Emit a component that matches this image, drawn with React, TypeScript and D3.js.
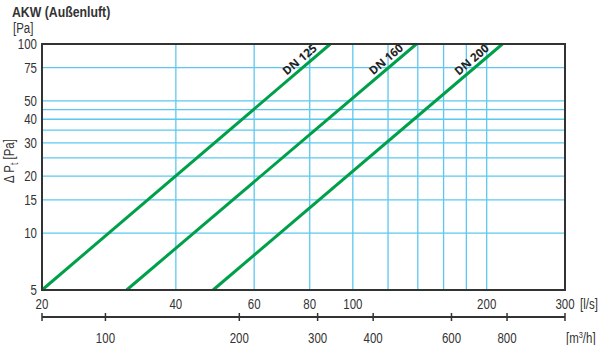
import React from "react";
import * as d3 from "d3";

const title = "AKW (Außenluft)";
const yTicks = [5, 10, 15, 20, 30, 40, 50, 75, 100];
const yGrid = [10, 15, 20, 25, 30, 35, 40, 45, 50, 75];
const xTicks = [20, 40, 60, 80, 100, 200, 300];
const xGrid = [40, 60, 80, 100, 120, 140, 160, 180, 200];
const m3hTicks = [72, 100, 200, 300, 400, 600, 800, 1080];
const m3hLabels = [100, 200, 300, 400, 600, 800];
const seriesNames = ["DN 125", "DN 160", "DN 200"];
// endpoints [flow l/s, pressure Pa]
const seriesPoints: [number, number][][] = [
  [[20, 5], [89, 100]],
  [[31, 5], [139, 100]],
  [[48.5, 5], [217, 100]],
];
const labelAt = [78, 122, 190];

const FONT = "'Liberation Sans', Arial, sans-serif";
const SX = 0.82;

function T(props: { x: number; y: number; anchor?: string; size?: number; bold?: boolean; children: React.ReactNode }) {
  const { x, y, anchor = "start", size = 14, bold = false, children } = props;
  return (
    <g transform={`translate(${x},${y}) scale(${SX},1)`}>
      <text x={0} y={0} textAnchor={anchor} fontSize={size} fontWeight={bold ? "bold" : "normal"} fill="#333" fontFamily={FONT}>
        {children}
      </text>
    </g>
  );
}

export default function App() {
  const W = 600, H = 345;
  const left = 42, right = 565, top = 44, bottom = 290;
  const x = d3.scaleLog().domain([20, 300]).range([left, right]);
  const y = d3.scaleLog().domain([5, 100]).range([bottom, top]);
  const xm = (v: number) => x(v / 3.6);
  const line = d3.line<[number, number]>().x(d => x(d[0])).y(d => y(d[1]));
  const grid = "#5cc8f0";
  const green = "#00a04a";
  const dark = "#333";
  const axY = 317;
  const ang = (() => {
    const p = seriesPoints[0];
    const dx = x(p[1][0]) - x(p[0][0]);
    const dy = y(p[1][1]) - y(p[0][1]);
    return (Math.atan2(dy, dx) * 180) / Math.PI;
  })();
  return (
    <svg width={W} height={H} style={{ position: "absolute", left: 0, top: 0, background: "#fff" }} fontFamily={FONT}>
      <T x={12} y={17} size={15} bold>{title}</T>
      <T x={13} y={33} size={14}>[Pa]</T>
      {yGrid.map(v => (
        <line key={"hg" + v} x1={left} x2={right} y1={y(v)} y2={y(v)} stroke={grid} strokeWidth={1.3} />
      ))}
      {xGrid.map(v => (
        <line key={"vg" + v} x1={x(v)} x2={x(v)} y1={top} y2={bottom} stroke={grid} strokeWidth={1.3} />
      ))}
      {seriesPoints.map((pts, i) => (
        <path key={"s" + i} d={line(pts) || ""} fill="none" stroke={green} strokeWidth={3} />
      ))}
      {seriesPoints.map((pts, i) => {
        const q = labelAt[i];
        const n = Math.log(pts[1][1] / pts[0][1]) / Math.log(pts[1][0] / pts[0][0]);
        const p = pts[0][1] * Math.pow(q / pts[0][0], n);
        const px = x(q), py = y(p);
        return (
          <text key={"l" + i} transform={`translate(${px},${py}) rotate(${ang}) translate(0,-4)`}
            textAnchor="middle" fontSize={11.5} fontWeight="bold" fill="#222"
            fontFamily="'Open Sans', 'DejaVu Sans', sans-serif">{seriesNames[i]}</text>
        );
      })}
      <rect x={left} y={top} width={right - left} height={bottom - top} fill="none" stroke={dark} strokeWidth={2} />
      {yTicks.map(v => (
        <T key={"yt" + v} x={37} y={y(v) + 5} anchor="end">{v}</T>
      ))}
      {xTicks.map(v => (
        <T key={"xt" + v} x={x(v)} y={309} anchor="middle">{v}</T>
      ))}
      <T x={580} y={309}>[l/s]</T>
      <line x1={xm(72)} x2={xm(1080)} y1={axY} y2={axY} stroke={dark} strokeWidth={2} />
      {m3hTicks.map(v => (
        <line key={"mt" + v} x1={xm(v)} x2={xm(v)} y1={axY - 4} y2={axY + 4} stroke={dark} strokeWidth={1.5} />
      ))}
      {m3hLabels.map(v => (
        <T key={"ml" + v} x={xm(v)} y={343} anchor="middle">{v}</T>
      ))}
      <T x={566} y={343}>[m<tspan dy={-5} fontSize={9}>3</tspan><tspan dy={5}>/h]</tspan></T>
      <g transform={`translate(14,161) rotate(-90) scale(${SX},1)`}>
        <text textAnchor="middle" fontSize={14} fill="#333" fontFamily={FONT}>
          Δ P<tspan dy={4} fontSize={10}>t</tspan><tspan dy={-4}> [Pa]</tspan>
        </text>
      </g>
    </svg>
  );
}
